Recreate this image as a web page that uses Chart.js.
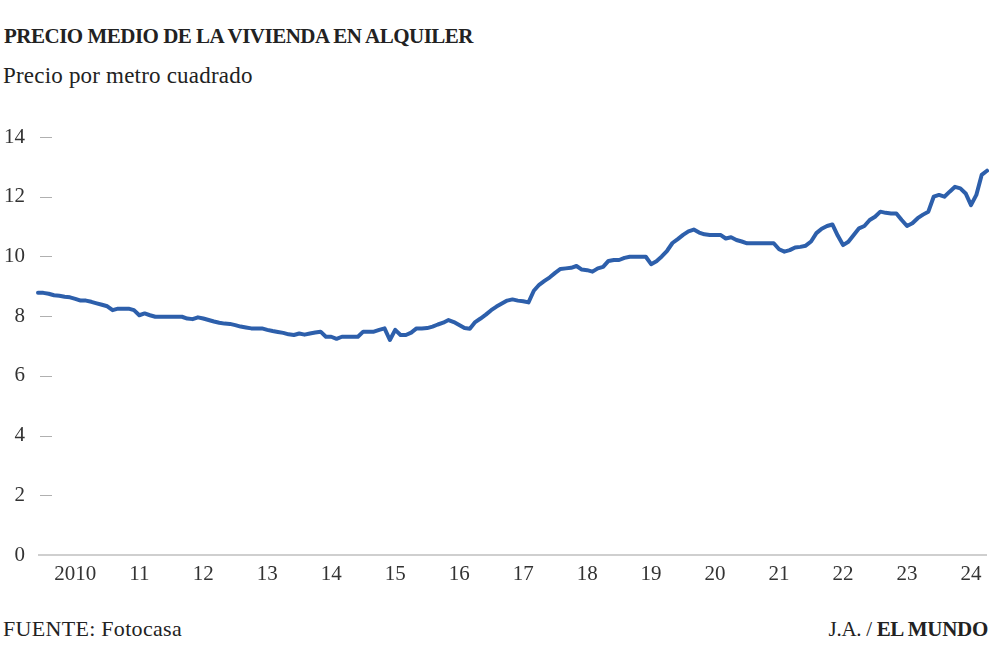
<!DOCTYPE html>
<html>
<head>
<meta charset="utf-8">
<script src="https://cdn.jsdelivr.net/npm/chart.js@4"></script>
<style>
  body { margin: 0; background: #fff; width: 990px; height: 666px; overflow: hidden; font-family: "Liberation Serif", "DejaVu Serif", serif; color: #222; }
  #title { position: absolute; left: 4px; top: 24px; font-size: 21px; font-weight: bold; letter-spacing: -0.5px; white-space: nowrap; }
  #subtitle { position: absolute; left: 3px; top: 63px; font-size: 23px; letter-spacing: 0.2px; white-space: nowrap; }
  #source { position: absolute; left: 3px; top: 616px; font-size: 22px; letter-spacing: 0.3px; white-space: nowrap; }
  #credit { position: absolute; right: 2px; top: 617px; font-size: 21px; letter-spacing: -0.3px; white-space: nowrap; }
  #wrap { position: absolute; left: 0; top: 110px; width: 990px; height: 485px; }
</style>
</head>
<body>
<div id="title">PRECIO MEDIO DE LA VIVIENDA EN ALQUILER</div>
<div id="subtitle">Precio por metro cuadrado</div>
<div id="source">FUENTE: Fotocasa</div>
<div id="credit">J.A. / <b>EL MUNDO</b></div>
<div id="wrap"><canvas id="lineChart"></canvas></div>
<script>
// monthly series, Dec 2009 .. Oct 2024 (euros / m2)
var startYear = 2009, startMonth = 11;
var yearLabels = ['2010','11','12','13','14','15','16','17','18','19','20','21','22','23','24'];
var yTicks = [0, 2, 4, 6, 8, 10, 12, 14];
var precio = [
  8.78, 8.78, 8.75, 8.70, 8.68, 8.65, 8.63, 8.58, 8.52, 8.52,
  8.48, 8.43, 8.38, 8.33, 8.20, 8.25, 8.25, 8.25, 8.20, 8.03,
  8.09, 8.03, 7.98, 7.98, 7.98, 7.98, 7.98, 7.98, 7.92, 7.90,
  7.96, 7.92, 7.87, 7.82, 7.78, 7.75, 7.74, 7.70, 7.65, 7.62,
  7.59, 7.59, 7.59, 7.54, 7.50, 7.47, 7.44, 7.39, 7.37, 7.42,
  7.38, 7.42, 7.45, 7.48, 7.31, 7.31, 7.24, 7.31, 7.31, 7.31,
  7.31, 7.48, 7.48, 7.48, 7.54, 7.59, 7.20, 7.54, 7.37, 7.37,
  7.45, 7.59, 7.59, 7.60, 7.65, 7.72, 7.78, 7.87, 7.80, 7.70,
  7.60, 7.58, 7.80, 7.92, 8.05, 8.20, 8.32, 8.42, 8.52, 8.56,
  8.52, 8.50, 8.46, 8.85, 9.05, 9.18, 9.30, 9.45, 9.58, 9.60,
  9.62, 9.68, 9.56, 9.54, 9.49, 9.60, 9.65, 9.85, 9.88, 9.88,
  9.95, 9.99, 9.99, 9.99, 9.99, 9.74, 9.84, 10.00, 10.19, 10.45,
  10.58, 10.72, 10.84, 10.90, 10.80, 10.74, 10.72, 10.72, 10.72, 10.60,
  10.64, 10.55, 10.50, 10.44, 10.44, 10.44, 10.44, 10.44, 10.44, 10.24,
  10.16, 10.21, 10.30, 10.32, 10.36, 10.50, 10.78, 10.93, 11.02, 11.07,
  10.70, 10.38, 10.49, 10.72, 10.94, 11.02, 11.22, 11.33, 11.50, 11.46,
  11.44, 11.44, 11.22, 11.02, 11.11, 11.28, 11.40, 11.50, 12.00, 12.06,
  12.00, 12.17, 12.33, 12.28, 12.11, 11.72, 12.06, 12.73, 12.87
];

var months = [];
for (var i = 0; i < precio.length; i++) {
  var m = startMonth + i;
  months.push((startYear + Math.floor(m / 12)) + '-' + ((m % 12) + 1));
}

// short grey dashes next to the y labels
var tickDashes = {
  id: 'tickDashes',
  afterDatasetsDraw: function (chart) {
    var ctx = chart.ctx, y = chart.scales.y, left = chart.chartArea.left;
    ctx.save();
    ctx.strokeStyle = '#b0b0b0';
    ctx.lineWidth = 1;
    yTicks.forEach(function (v) {
      if (v === 0) return;
      var py = Math.round(y.getPixelForValue(v)) + 0.5;
      ctx.beginPath();
      ctx.moveTo(left + 2, py);
      ctx.lineTo(left + 14, py);
      ctx.stroke();
    });
    ctx.restore();
  }
};

var ctx = document.getElementById('lineChart');
var chart = new Chart(ctx, {
  type: 'line',
  data: {
    labels: months,
    datasets: [{
      data: precio,
      borderColor: '#2d5fab',
      borderWidth: 4,
      pointRadius: 0,
      tension: 0,
      borderJoinStyle: 'round',
      borderCapStyle: 'round'
    }]
  },
  options: {
    responsive: true,
    maintainAspectRatio: false,
    animation: false,
    layout: { padding: { top: 27, right: 3, left: 0, bottom: 0 } },
    plugins: { legend: { display: false }, tooltip: { enabled: false } },
    scales: {
      x: {
        type: 'category',
        offset: false,
        border: { display: false },
        grid: { display: false, drawTicks: false },
        ticks: {
          autoSkip: false,
          maxRotation: 0,
          minRotation: 0,
          padding: 7,
          color: '#333',
          font: { family: 'Liberation Serif', size: 21 },
          callback: function (val, idx) {
            var m = (startMonth + idx) % 12;
            if (m !== 6) return null;
            var yr = startYear + Math.floor((startMonth + idx) / 12);
            return yearLabels[yr - 2010];
          }
        },
        afterFit: function (s) { s.height = 40; }
      },
      y: {
        min: 0,
        max: 14,
        border: { display: false },
        afterBuildTicks: function (s) { s.ticks = yTicks.map(function (v) { return { value: v }; }); },
        grid: {
          drawTicks: false,
          lineWidth: 2,
          color: function (c) { return c.tick && c.tick.value === 0 ? '#cfcfcf' : 'rgba(0,0,0,0)'; }
        },
        ticks: {
          padding: 13,
          color: '#333',
          font: { family: 'Liberation Serif', size: 21 }
        },
        afterFit: function (s) { s.width = 38; }
      }
    }
  },
  plugins: [tickDashes]
});
</script>
</body>
</html>
